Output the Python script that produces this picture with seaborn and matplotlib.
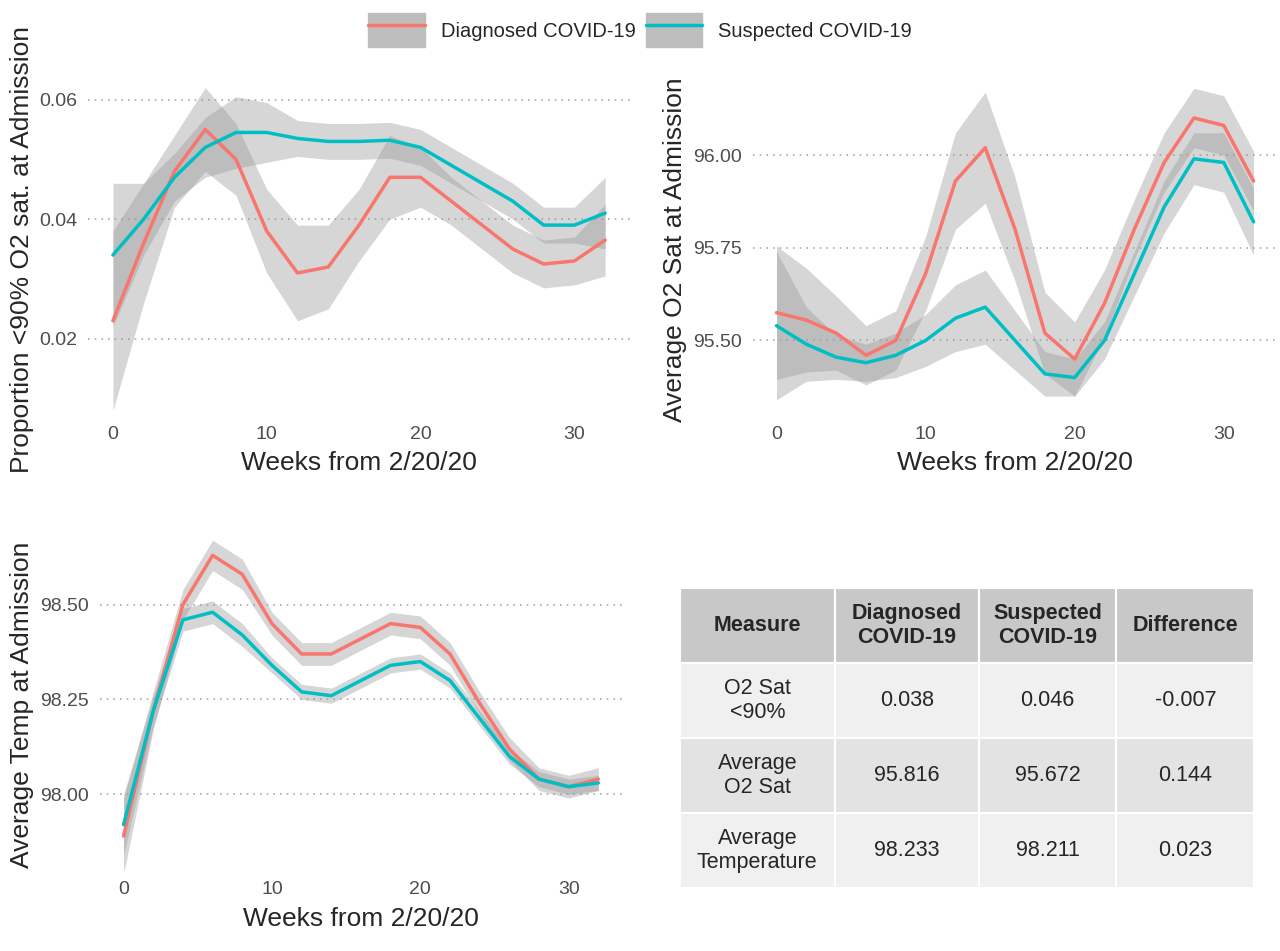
import numpy as np
import pandas as pd
import matplotlib
matplotlib.use("Agg")
import matplotlib.pyplot as plt
import seaborn as sns
from matplotlib.patches import Patch
from matplotlib.lines import Line2D

weeks = list(range(0, 33, 2))

# proportion <90% O2 sat
prop_diag = [0.023, 0.036, 0.048, 0.055, 0.050, 0.038, 0.031, 0.032, 0.039, 0.047, 0.047, 0.043, 0.039, 0.035, 0.0325, 0.033, 0.0365]
prop_diag_se = [0.015, 0.010, 0.006, 0.007, 0.006, 0.007, 0.008, 0.007, 0.006, 0.007, 0.005, 0.004, 0.004, 0.004, 0.004, 0.004, 0.006]
prop_susp = [0.034, 0.040, 0.047, 0.052, 0.0545, 0.0545, 0.0535, 0.053, 0.053, 0.0532, 0.052, 0.049, 0.046, 0.043, 0.039, 0.039, 0.041]
prop_susp_se = [0.012, 0.006, 0.004, 0.005, 0.006, 0.005, 0.003, 0.003, 0.003, 0.003, 0.003, 0.003, 0.003, 0.003, 0.003, 0.003, 0.006]

# average O2 sat
o2_diag = [95.575, 95.555, 95.52, 95.46, 95.50, 95.68, 95.93, 96.02, 95.80, 95.52, 95.45, 95.60, 95.80, 95.98, 96.10, 96.08, 95.93]
o2_diag_se = [0.18, 0.14, 0.10, 0.08, 0.08, 0.10, 0.13, 0.15, 0.14, 0.11, 0.10, 0.09, 0.08, 0.08, 0.08, 0.08, 0.08]
o2_susp = [95.54, 95.49, 95.455, 95.44, 95.46, 95.50, 95.56, 95.59, 95.50, 95.41, 95.40, 95.50, 95.68, 95.86, 95.99, 95.98, 95.82]
o2_susp_se = [0.20, 0.10, 0.06, 0.05, 0.06, 0.07, 0.09, 0.10, 0.08, 0.06, 0.05, 0.05, 0.06, 0.07, 0.07, 0.08, 0.09]

# average temperature
temp_diag = [97.89, 98.22, 98.50, 98.63, 98.58, 98.45, 98.37, 98.37, 98.41, 98.45, 98.44, 98.37, 98.24, 98.12, 98.04, 98.02, 98.04]
temp_diag_se = [0.10, 0.05, 0.04, 0.04, 0.04, 0.03, 0.03, 0.03, 0.03, 0.03, 0.03, 0.03, 0.03, 0.03, 0.03, 0.03, 0.03]
temp_susp = [97.92, 98.22, 98.46, 98.48, 98.42, 98.34, 98.27, 98.26, 98.30, 98.34, 98.35, 98.30, 98.20, 98.10, 98.04, 98.02, 98.03]
temp_susp_se = [0.08, 0.04, 0.03, 0.03, 0.03, 0.02, 0.02, 0.02, 0.02, 0.02, 0.02, 0.02, 0.02, 0.02, 0.02, 0.02, 0.02]

table_cols = ["Measure", "Diagnosed\nCOVID-19", "Suspected\nCOVID-19", "Difference"]
table_rows = [["O2 Sat\n<90%", "0.038", "0.046", "-0.007"],
              ["Average\nO2 Sat", "95.816", "95.672", "0.144"],
              ["Average\nTemperature", "98.233", "98.211", "0.023"]]

RED, CYAN = "#F8766D", "#00BFC4"

sns.set_style("white")
plt.rcParams['font.family'] = ['Liberation Sans', 'DejaVu Sans']

fig = plt.figure(figsize=(12.8, 9.51), dpi=100)


def panel(rect, diag, dse, susp, sse, ylim, yticks, fmt, ylabel):
    ax = fig.add_axes(rect)
    for vals, se, col in [(diag, dse, RED), (susp, sse, CYAN)]:
        v, s = np.array(vals), np.array(se)
        ax.fill_between(weeks, v - s, v + s, color="#999999", alpha=0.4, lw=0)
        sns.lineplot(x=weeks, y=vals, color=col, lw=2.5, ax=ax)
    ax.set_xlim(-1.6, 33.6)
    ax.set_ylim(*ylim)
    ax.set_xticks([0, 10, 20, 30])
    ax.set_yticks(yticks)
    ax.set_yticklabels([fmt.format(t) for t in yticks])
    ax.grid(axis="y", color="#AAAAAA", ls=(0, (1, 3)), lw=1.2)
    for s in ax.spines.values():
        s.set_visible(False)
    ax.tick_params(colors="#4D4D4D", labelsize=14, length=0, pad=8)
    ax.set_xlabel("Weeks from 2/20/20", fontsize=19, labelpad=6)
    ax.set_ylabel(ylabel, fontsize=19, labelpad=4)
    return ax


panel([0.069, 0.564, 0.423, 0.347], prop_diag, prop_diag_se, prop_susp, prop_susp_se,
      (0.0073, 0.0625), [0.02, 0.04, 0.06], "{:.2f}", "Proportion <90% O2 sat. at Admission")
panel([0.588, 0.564, 0.41, 0.347], o2_diag, o2_diag_se, o2_susp, o2_susp_se,
      (95.30, 96.19), [95.5, 95.75, 96.0], "{:.2f}", "Average O2 Sat at Admission")
panel([0.078, 0.085, 0.408, 0.347], temp_diag, temp_diag_se, temp_susp, temp_susp_se,
      (97.80, 98.67), [98.0, 98.25, 98.5], "{:.2f}", "Average Temp at Admission")

# legend
handles = [(Patch(color="#BDBDBD"), Line2D([], [], color=RED, lw=2.5)),
           (Patch(color="#BDBDBD"), Line2D([], [], color=CYAN, lw=2.5))]
fig.legend(handles, ["Diagnosed COVID-19", "Suspected COVID-19"], loc="upper center",
           bbox_to_anchor=(0.5, 1.005), ncol=2, frameon=False, fontsize=14.5,
           handlelength=2.8, handleheight=2.2, columnspacing=0.5, handletextpad=0.8)

# table
tax = fig.add_axes([0.531, 0.066, 0.449, 0.316])
tax.axis("off")
tbl = tax.table(cellText=table_rows, colLabels=table_cols, loc="center",
                bbox=[0, 0, 1, 1], cellLoc="center", colWidths=[0.27, 0.25, 0.24, 0.24])
tbl.auto_set_font_size(False)
row_bg = ["#F0F0F0", "#E3E3E3", "#F0F0F0"]
for (r, c), cell in tbl.get_celld().items():
    cell.set_edgecolor("white")
    cell.set_linewidth(1.5)
    cell.get_text().set_fontsize(15.5)
    if r == 0:
        cell.set_facecolor("#C8C8C8")
        cell.get_text().set_fontweight("bold")
    else:
        cell.set_facecolor(row_bg[r - 1])

fig.savefig("out.png", dpi=100)
